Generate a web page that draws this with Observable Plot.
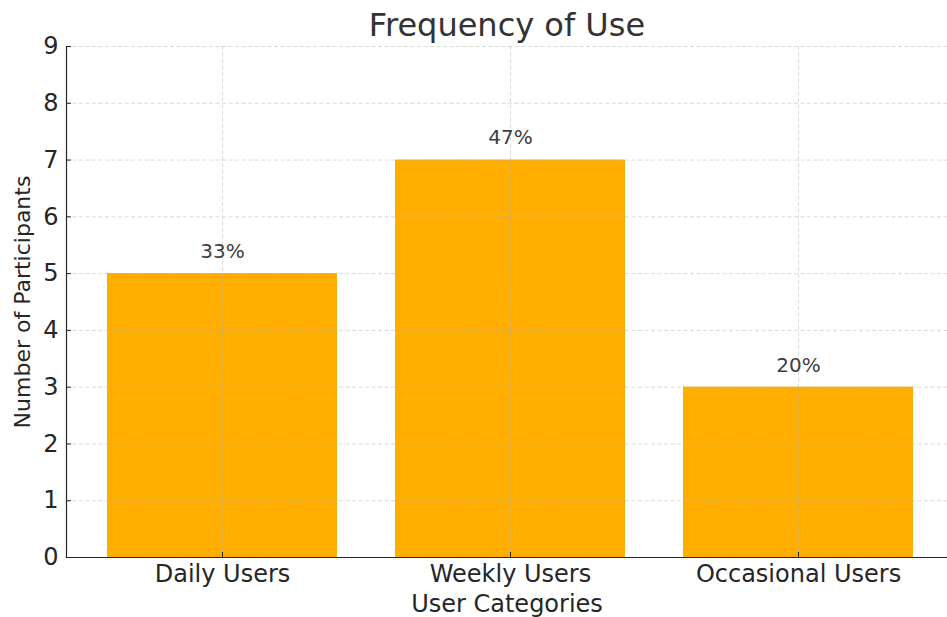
<!DOCTYPE html>
<html>
<head>
<meta charset="utf-8">
<script src="https://cdn.jsdelivr.net/npm/d3@7"></script>
<script src="https://cdn.jsdelivr.net/npm/@observablehq/plot@0.6"></script>
<style>
  html, body { margin: 0; padding: 0; background: #fff; }
  #chart svg { font-family: "DejaVu Sans", sans-serif; }
</style>
</head>
<body>
<div id="chart"></div>
<script>
const title = "Frequency of Use";
const categories = ["Daily Users", "Weekly Users", "Occasional Users"];
const participants = [5, 7, 3];
const percentLabels = ["33%", "47%", "20%"];
const yTicks = [0, 1, 2, 3, 4, 5, 6, 7, 8, 9];
const xLabel = "User Categories";
const yLabel = "Number of Participants";

const data = categories.map((c, i) => ({category: c, value: participants[i], pct: percentLabels[i]}));

const textColor = "#262626";

const chart = Plot.plot({
  width: 947,
  height: 617,
  marginLeft: 66,
  marginRight: 0,
  marginTop: 46,
  marginBottom: 60,
  style: {fontFamily: "DejaVu Sans, sans-serif", color: textColor, background: "#fff"},
  x: {type: "band", domain: categories, range: [107, 914], paddingInner: 0.2, paddingOuter: 0},
  y: {domain: [0, 9]},
  marks: [
    Plot.barY(data, {x: "category", y: "value", fill: "#FFAE00"}),
    Plot.gridY(yTicks, {stroke: "#b0b0b0", strokeOpacity: 0.6, strokeDasharray: "4,2.5", strokeWidth: 0.8}),
    Plot.gridX(categories, {stroke: "#b0b0b0", strokeOpacity: 0.6, strokeDasharray: "4,2.5", strokeWidth: 0.8}),
    Plot.text(data, {x: "category", y: "value", text: "pct", dy: -22, fontSize: 20, fill: "#404040"}),
    Plot.axisY(yTicks, {tickSize: -5, tickPadding: 13, fontSize: 24, tickFormat: d => String(d), label: null}),
    Plot.text([yLabel], {frameAnchor: "left", textAnchor: "middle", lineAnchor: "middle", rotate: -90, dx: -44, fontSize: 22, fill: textColor}),
    Plot.axisX(categories, {tickSize: -5, tickPadding: 12, fontSize: 24, label: xLabel, labelAnchor: "center", labelOffset: 54, labelArrow: false}),
    Plot.frame({anchor: "left", stroke: textColor, strokeWidth: 1.2}),
    Plot.frame({anchor: "bottom", stroke: textColor, strokeWidth: 1.2}),
    Plot.text([title], {frameAnchor: "top", dy: -33, fontSize: 32, fill: "#333"})
  ]
});
document.getElementById("chart").append(chart);
</script>
</body>
</html>
